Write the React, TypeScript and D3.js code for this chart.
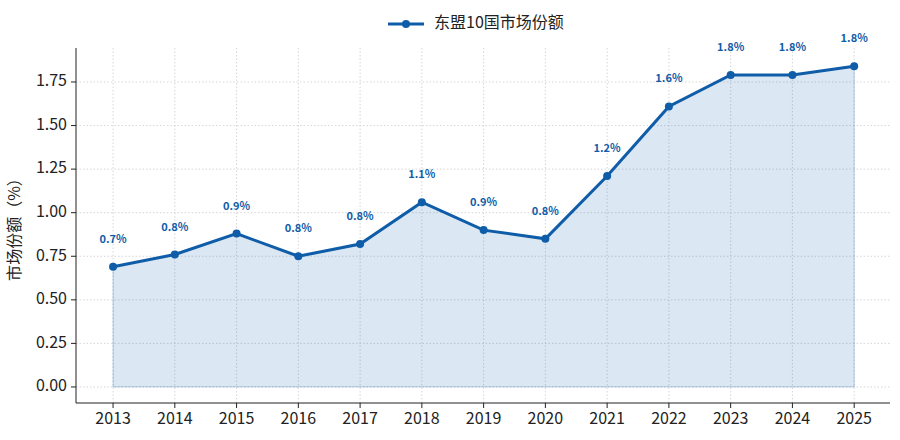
import React from "react";
import * as d3 from "d3";

const years = [2013, 2014, 2015, 2016, 2017, 2018, 2019, 2020, 2021, 2022, 2023, 2024, 2025];
const share = [0.69, 0.76, 0.88, 0.75, 0.82, 1.06, 0.9, 0.85, 1.21, 1.61, 1.79, 1.79, 1.84];
const yTicks = [0, 0.25, 0.5, 0.75, 1.0, 1.25, 1.5, 1.75];

const COLOR = "#0f5ca8";
const FONT = "'Noto Sans CJK SC', 'Noto Sans', sans-serif";

export default function App() {
  const width = 900;
  const height = 440;
  const margin = { top: 48, right: 10, bottom: 37, left: 76 };
  const w = width - margin.left - margin.right;
  const h = height - margin.top - margin.bottom;

  const x = d3.scaleLinear().domain([2012.4, 2025.58]).range([0, w]);
  const y = d3.scaleLinear().domain([-0.092, 1.945]).range([h, 0]);

  const data = years.map((yr, i) => ({ yr, v: share[i] }));
  const line = d3.line<{ yr: number; v: number }>().x((d) => x(d.yr)).y((d) => y(d.v));
  const area = d3
    .area<{ yr: number; v: number }>()
    .x((d) => x(d.yr))
    .y0(y(0))
    .y1((d) => y(d.v));

  return (
    <svg width={width} height={height} style={{ position: "absolute", left: 0, top: 0, fontFamily: FONT }}>
      <rect width={width} height={height} fill="#fff" />
      {/* Legend */}
      <g transform="translate(388,24)">
        <line x1={0} x2={36} y1={0} y2={0} stroke={COLOR} strokeWidth={3} />
        <circle cx={18} cy={0} r={4} fill={COLOR} />
        <text x={46} y={0} dominantBaseline="middle" fontSize={16} fill="#222">
          东盟10国市场份额
        </text>
      </g>
      <g transform={`translate(${margin.left},${margin.top})`}>
        {/* Grid */}
        {yTicks.map((t) => (
          <line key={t} x1={0} x2={w} y1={y(t)} y2={y(t)} stroke="#ccc" strokeDasharray="1.5,2" strokeWidth={0.8} />
        ))}
        {years.map((t) => (
          <line key={t} x1={x(t)} x2={x(t)} y1={0} y2={h} stroke="#ccc" strokeDasharray="1.5,2" strokeWidth={0.8} />
        ))}
        <path d={area(data) || ""} fill={COLOR} fillOpacity={0.15} stroke={COLOR} strokeOpacity={0.25} />
        <path d={line(data) || ""} fill="none" stroke={COLOR} strokeWidth={3} />
        {data.map((d) => (
          <circle key={d.yr} cx={x(d.yr)} cy={y(d.v)} r={4} fill={COLOR} />
        ))}
        {data.map((d) => (
          <text key={d.yr} x={x(d.yr)} y={y(d.v) - 24} textAnchor="middle" fontSize={11} fontWeight="bold" fill={COLOR}>
            {d.v.toFixed(1)}%
          </text>
        ))}
        {/* Axes */}
        <line x1={0} x2={0} y1={0} y2={h} stroke="#222" />
        <line x1={0} x2={w} y1={h} y2={h} stroke="#222" />
        {yTicks.map((t) => (
          <g key={t}>
            <line x1={-5} x2={0} y1={y(t)} y2={y(t)} stroke="#222" />
            <text x={-9} y={y(t)} textAnchor="end" dominantBaseline="middle" fontSize={16} fill="#222">
              {t.toFixed(2)}
            </text>
          </g>
        ))}
        {years.map((t) => (
          <g key={t}>
            <line x1={x(t)} x2={x(t)} y1={h} y2={h + 5} stroke="#222" />
            <text x={x(t)} y={h + 21} textAnchor="middle" fontSize={16} fill="#222">
              {t}
            </text>
          </g>
        ))}
        <text transform={`translate(-56,${h / 2}) rotate(-90)`} textAnchor="middle" fontSize={16} fill="#222">
          市场份额（%）
        </text>
      </g>
    </svg>
  );
}
